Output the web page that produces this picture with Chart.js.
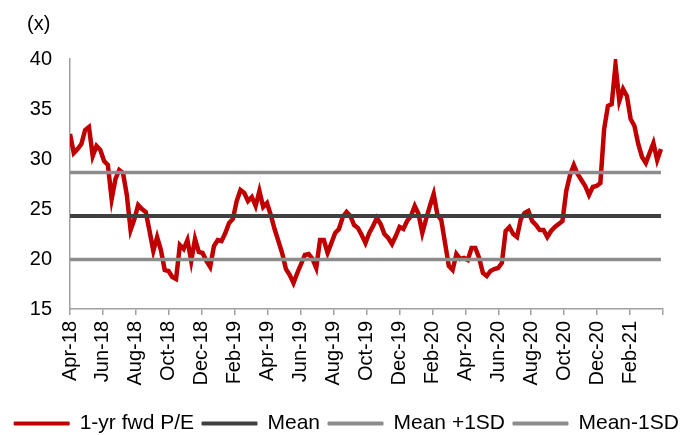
<!DOCTYPE html>
<html>
<head>
<meta charset="utf-8">
<script src="https://cdn.jsdelivr.net/npm/chart.js@4.4.0/dist/chart.umd.min.js"></script>
<style>
  html, body { margin: 0; padding: 0; background: #fff; }
  #wrap { width: 693px; height: 435px; }
</style>
</head>
<body>
<div id="wrap"><canvas id="peChart"></canvas></div>
<script>
// Tick labels of the x axis, one every 2 months from Apr-18 (last tick Apr-21 has no label)
const xTickLabels = ['Apr-18', 'Jun-18', 'Aug-18', 'Oct-18', 'Dec-18', 'Feb-19', 'Apr-19', 'Jun-19', 'Aug-19',
    'Oct-19', 'Dec-19', 'Feb-20', 'Apr-20', 'Jun-20', 'Aug-20', 'Oct-20', 'Dec-20', 'Feb-21', ''];

// Weekly 1-yr forward P/E (first week = start of Apr-18)
const peValues = [
    32.5, 30.6, 31.0, 31.5, 32.9, 33.2, 30.3, 31.3, 30.9, 29.8,
    29.4, 26.0, 28.0, 28.9, 28.6, 26.4, 22.9, 24.0, 25.4, 25.0,
    24.7, 22.8, 20.8, 22.2, 20.9, 18.9, 18.8, 18.2, 18.0, 21.4,
    21.0, 21.9, 19.8, 22.0, 20.7, 20.6, 19.8, 19.2, 21.3, 21.9,
    21.8, 22.6, 23.6, 24.0, 25.8, 26.9, 26.6, 25.8, 26.2, 25.3,
    26.8, 25.2, 25.6, 24.4, 23.0, 21.8, 20.6, 19.0, 18.4, 17.6,
    18.6, 19.5, 20.4, 20.5, 20.0, 19.1, 21.9, 21.9, 20.6, 21.6,
    22.6, 23.0, 24.2, 24.7, 24.3, 23.4, 23.1, 22.4, 21.6, 22.6,
    23.3, 24.1, 23.5, 22.5, 22.1, 21.5, 22.3, 23.2, 23.0, 23.8,
    24.3, 25.3, 24.5, 22.6, 24.0, 25.3, 26.5, 24.4, 23.9, 21.6,
    19.3, 18.9, 20.5, 20.0, 20.1, 19.9, 21.1, 21.1, 20.1, 18.6,
    18.3, 18.8, 19.0, 19.1, 19.6, 22.8, 23.2, 22.5, 22.2, 24.0,
    24.6, 24.8, 23.8, 23.4, 22.9, 22.9, 22.2, 22.8, 23.2, 23.5,
    23.8, 26.8, 28.4, 29.4, 28.5, 27.9, 27.3, 26.4, 27.2, 27.3,
    27.6, 33.0, 35.3, 35.5, 39.4, 35.8, 37.0, 36.3, 34.0, 33.3,
    31.5, 30.2, 29.6, 30.6, 31.6, 29.9, 31.0
];

// Mean and +/- 1 standard deviation bands
const meanValue = 24.3;
const plusSdValue = 28.65;
const minusSdValue = 19.95;

const yTicks = [15, 20, 25, 30, 35, 40];

const monthsPerWeek = 7 / 30.4375;
const peData = peValues.map((v, i) => ({ x: i * monthsPerWeek, y: v }));
const lastX = (peValues.length - 1) * monthsPerWeek;
const flatLine = v => [{ x: 0, y: v }, { x: lastX, y: v }];

const FONT = "'Liberation Sans', Arial, sans-serif";

// "(x)" unit label at top-left
const unitLabel = {
    id: 'unitLabel',
    afterDraw(chart) {
        const ctx = chart.ctx;
        ctx.save();
        ctx.font = '20px ' + FONT;
        ctx.fillStyle = '#000';
        ctx.textBaseline = 'middle';
        ctx.fillText('(x)', 27, 24);
        ctx.restore();
    }
};

const ctx = document.getElementById('peChart').getContext('2d');
new Chart(ctx, {
    type: 'line',
    data: {
        datasets: [
            {
                label: '1-yr fwd P/E',
                data: peData,
                borderColor: '#C00000',
                backgroundColor: '#C00000',
                borderWidth: 4.5,
                pointRadius: 0,
                tension: 0,
                order: 4
            },
            {
                label: 'Mean',
                data: flatLine(meanValue),
                borderColor: '#404040',
                backgroundColor: '#404040',
                borderWidth: 4,
                pointRadius: 0,
                order: 1
            },
            {
                label: 'Mean +1SD',
                data: flatLine(plusSdValue),
                borderColor: '#8C8C8C',
                backgroundColor: '#8C8C8C',
                borderWidth: 3.5,
                pointRadius: 0,
                order: 2
            },
            {
                label: 'Mean-1SD',
                data: flatLine(minusSdValue),
                borderColor: '#8C8C8C',
                backgroundColor: '#8C8C8C',
                borderWidth: 3.5,
                pointRadius: 0,
                order: 3
            }
        ]
    },
    options: {
        responsive: true,
        maintainAspectRatio: false,
        animation: false,
        layout: {
            padding: { top: 59, right: 0, bottom: -9, left: 0 }
        },
        plugins: {
            tooltip: { enabled: false },
            legend: {
                position: 'bottom',
                labels: {
                    font: { family: FONT, size: 21 },
                    color: '#000',
                    boxWidth: 55,
                    boxHeight: 3,
                    padding: 8,
                    sort: (a, b) => a.datasetIndex - b.datasetIndex,
                    generateLabels: chart => Chart.defaults.plugins.legend.labels.generateLabels(chart)
                        .map(l => ({ ...l, lineWidth: 1 }))
                }
            }
        },
        scales: {
            x: {
                type: 'linear',
                min: 0,
                max: 36,
                afterBuildTicks: scale => {
                    scale.ticks = xTickLabels.map((_, k) => ({ value: k * 2 }));
                },
                afterFit: scale => { scale.height = 96; },
                grid: {
                    display: true,
                    drawOnChartArea: false,
                    drawTicks: true,
                    tickLength: 6,
                    color: '#A0A0A0',
                    lineWidth: 1.5
                },
                border: { display: true, color: '#A0A0A0', width: 1.5 },
                ticks: {
                    autoSkip: false,
                    maxRotation: 90,
                    minRotation: 90,
                    padding: 6,
                    color: '#000',
                    font: { family: FONT, size: 20 },
                    callback: value => xTickLabels[Math.round(value / 2)] || ''
                }
            },
            y: {
                min: 15,
                max: 40,
                afterBuildTicks: scale => {
                    scale.ticks = yTicks.map(v => ({ value: v }));
                },
                afterFit: scale => { scale.width = 70; },
                grid: { display: false, drawTicks: false },
                border: { display: true, color: '#A0A0A0', width: 1.5 },
                ticks: {
                    padding: 18,
                    color: '#000',
                    font: { family: FONT, size: 20 }
                }
            },
            // empty right-hand spacer so the plot ends where the reference's does
            spacer: {
                position: 'right',
                min: 15,
                max: 40,
                afterFit: scale => { scale.width = 25; },
                grid: { display: false, drawTicks: false },
                border: { display: false },
                ticks: { display: false }
            }
        }
    },
    plugins: [unitLabel]
});
</script>
</body>
</html>
